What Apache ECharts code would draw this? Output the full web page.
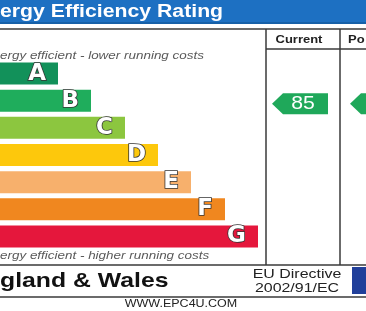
<!DOCTYPE html>
<html>
<head>
<meta charset="utf-8">
<script src="https://cdn.jsdelivr.net/npm/echarts@6/dist/echarts.min.js"></script>
<style>html,body{margin:0;padding:0;background:#fff;}#c{width:366px;height:311px;}</style>
</head>
<body>
<div id="c"></div>
<script>
// ---- data ----
const titleText = 'ergy Efficiency Rating';
const topNote = 'ergy efficient - lower running costs';
const bottomNote = 'ergy efficient - higher running costs';
const regionText = 'gland & Wales';
const directiveLines = ['EU Directive', '2002/91/EC'];
const footerText = 'WWW.EPC4U.COM';
const columnHeaders = ['Current', 'Po'];
const bandLetters = ['A', 'B', 'C', 'D', 'E', 'F', 'G'];
const bandLengths = [58, 91, 125, 158, 191, 225, 258];
const bandColors = ['#12915a', '#1fad5c', '#8cc63f', '#fdc80c', '#f7b06c', '#f0871f', '#e5173c'];
const ratingBands = ['B', 'B'];       // current, potential
const ratingValues = ['85', ''];      // potential value cut off in reference
const ratingColors = ['#1fa85a', '#1fa85a'];

// ---- layout ----
const FONT = '"Liberation Sans", Arial, sans-serif';
const SX = 1.18;
const colTip = [272, 350];
const lineColor = '#3a3a3a';

const chart = echarts.init(document.getElementById('c'), null, {renderer: 'canvas'});

function hline(y, x1, x2) {
  return {type: 'line', shape: {x1: x1, y1: y, x2: x2, y2: y}, style: {stroke: lineColor, lineWidth: 1.5}, silent: true};
}
function vline(x, y1, y2) {
  return {type: 'line', shape: {x1: x, y1: y1, x2: x, y2: y2}, style: {stroke: lineColor, lineWidth: 1.5}, silent: true};
}
function txt(text, x, y, size, opts) {
  opts = opts || {};
  return {
    type: 'text', x: x, y: y, scaleX: opts.sx || SX,
    style: {
      text: text, fill: opts.fill || '#222', fontSize: size,
      fontWeight: opts.weight || 'normal', fontStyle: opts.style || 'normal',
      fontFamily: FONT, align: opts.align || 'left', verticalAlign: 'middle'
    },
    silent: true
  };
}

const arrowData = ratingBands.map((b, i) => [0, bandLetters.indexOf(b), i]);

chart.setOption({
  animation: false,
  grid: {left: 0, top: 60, width: 366, height: 190},
  xAxis: {type: 'value', min: 0, max: 366, show: false},
  yAxis: {type: 'category', data: bandLetters, inverse: true, show: false},
  series: [
    {
      type: 'bar',
      barWidth: 22,
      data: bandLengths.map((v, i) => ({value: v, itemStyle: {color: bandColors[i]}})),
      label: {
        show: true, position: 'insideRight', distance: 12,
        formatter: p => bandLetters[p.dataIndex],
        color: '#fff', fontSize: 23, fontWeight: 'bold', fontFamily: '"DejaVu Sans", sans-serif',
        textBorderColor: '#333', textBorderWidth: 1.6
      },
      silent: true
    },
    {
      type: 'custom',
      data: arrowData,
      encode: {x: 0, y: 1},
      clip: false,
      silent: true,
      renderItem: function (params, api) {
        const band = api.value(1);
        const col = api.value(2);
        const cy = api.coord([0, band])[1] + 3;
        const tx = colTip[col];
        const h = 10.5;
        return {
          type: 'group',
          children: [
            {type: 'polygon', shape: {points: [[tx, cy], [tx + 11, cy - h], [tx + 56, cy - h], [tx + 56, cy + h], [tx + 11, cy + h]]},
             style: {fill: ratingColors[col]}},
            {type: 'text', x: tx + 31, y: cy + 0.5, scaleX: SX,
             style: {text: ratingValues[col], fill: '#fff', fontSize: 18, fontFamily: FONT, align: 'center', verticalAlign: 'middle'}}
          ]
        };
      }
    }
  ],
  graphic: [
    {type: 'rect', shape: {x: 0, y: 0, width: 366, height: 24}, style: {fill: '#1d70c2'}, silent: true},
    {type: 'rect', shape: {x: 0, y: 22, width: 366, height: 2}, style: {fill: '#1660a8'}, silent: true},
    txt(titleText, 0, 12.5, 18, {weight: 'bold', fill: '#ffffff'}),
    hline(29, 0, 366),
    hline(49, 266, 366),
    vline(266, 29, 265),
    vline(340, 29, 265),
    hline(265, 0, 366),
    hline(297, 0, 366),
    txt(columnHeaders[0], 299, 40, 11, {weight: 'bold', align: 'center'}),
    txt(columnHeaders[1], 348, 40, 11, {weight: 'bold'}),
    txt(topNote, 0, 56, 11.4, {style: 'italic', fill: '#5a5a5a'}),
    txt(bottomNote, 0, 256, 11.4, {style: 'italic', fill: '#5a5a5a'}),
    txt(regionText, 0, 281, 21, {weight: 'bold', fill: '#111'}),
    txt(directiveLines[0], 297, 274, 13.5, {align: 'center', fill: '#222'}),
    txt(directiveLines[1], 297, 288, 13.5, {align: 'center', fill: '#222'}),
    {type: 'rect', shape: {x: 352, y: 267, width: 14, height: 27}, style: {fill: '#213f9a'}, silent: true},
    txt(footerText, 181, 304, 10, {align: 'center', sx: 1.25, fill: '#222'})
  ]
});
</script>
</body>
</html>
